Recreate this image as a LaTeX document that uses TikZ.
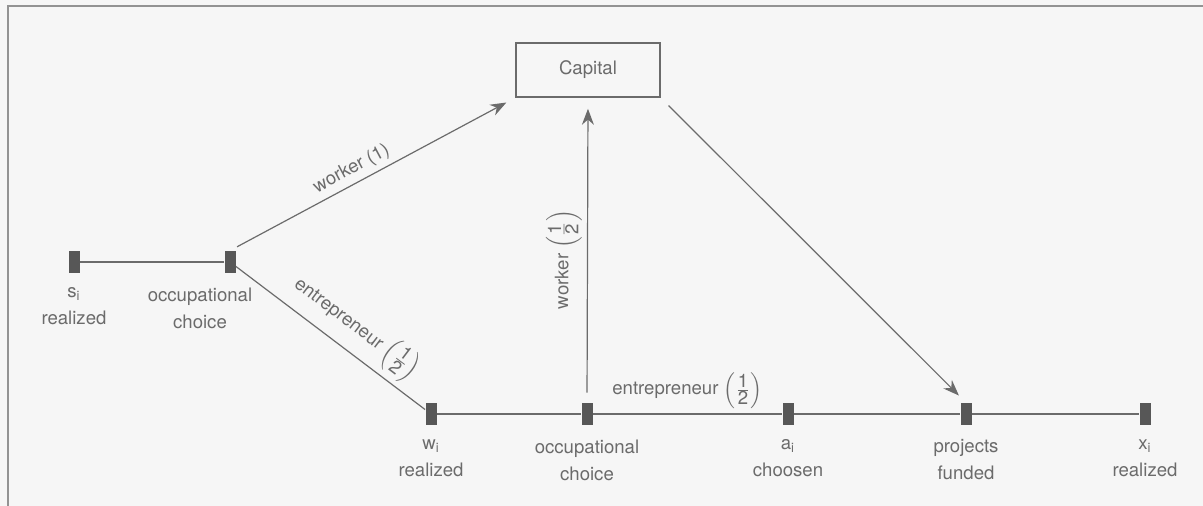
\documentclass[tikz,border=0pt]{standalone}
\usepackage{fontspec}
\setmainfont{TeX Gyre Heros}
\usetikzlibrary{positioning}
\usetikzlibrary{arrows.meta}
\definecolor{inkgray}{gray}{0.42}
\definecolor{tickgray}{gray}{0.34}
\definecolor{paper}{gray}{0.965}
\newcommand{\lblfont}{\fontsize{9.3}{11.5}\selectfont}
\newcommand{\half}{$\left(\frac{\hbox{1}}{\hbox{2}}\right)$}
\tikzstyle{tick}=[rectangle,fill=tickgray,minimum width=5.5pt,minimum height=11pt,inner sep=0pt]
\tikzstyle{event}=[align=center,text=inkgray,font=\lblfont,inner sep=0pt,execute at begin node=\strut]
\tikzstyle{timeline}=[draw,inkgray,line width=0.6pt]
\tikzstyle{flow}=[draw,inkgray,line width=0.6pt,-{Stealth[length=8pt,width=6pt]}]
\tikzstyle{weight}=[text=inkgray,font=\lblfont,inner sep=2.5pt]

\begin{document}
\begin{tikzpicture}[x=0.5pt,y=-0.5pt]
    \useasboundingbox[fill=paper] (0,0) rectangle (1203,506);
    \draw[gray!85,line width=1pt] (1210,6) -- (8,6) -- (8,506);

    \node[draw=inkgray,line width=0.8pt,minimum width=72pt,minimum height=27pt,text=inkgray,font=\lblfont] (cap) at (588,70) {Capital};

    \foreach \pos/\name in {{(74,262)/si}, {(230,262)/oc1}, {(431,414)/wi}, {(587,414)/oc2}, {(788,414)/ai}, {(966,414)/pf}, {(1145,414)/xi}}
        \node[tick] (\name) at \pos {};

    \foreach \name/\shift/\txt in {si/0/{s\textsubscript{i}\\[2pt]realized}, oc1/-15/{occupational\\[2pt]choice}, wi/0/{w\textsubscript{i}\\[2pt]realized}, oc2/0/{occupational\\[2pt]choice}, ai/0/{a\textsubscript{i}\\[2pt]choosen}, pf/0/{projects\\[2pt]funded}, xi/0/{x\textsubscript{i}\\[2pt]realized}}
        \node[event,below=7pt of \name,xshift=\shift pt] (\name-lbl) {\txt};

    \path[timeline] (si) -- (oc1);
    \path[timeline] (oc1) -- node[weight,sloped,above,pos=0.56]{entrepreneur \half} (wi);
    \path[timeline] (wi) -- (oc2) -- node[weight,above]{entrepreneur \half} (ai) -- (pf) -- (xi);

    \path[flow,shorten <=4pt,shorten >=5pt] (oc1.north) -- node[weight,sloped,above,pos=0.45]{worker (1)} (cap.south west);
    \path[flow,shorten <=5pt,shorten >=5.5pt] (oc2.north) -- node[weight,sloped,above,pos=0.47]{worker \half} (cap.south);
    \path[flow,shorten <=5.5pt,shorten >=5pt] (cap.south east) -- (pf.north);

\end{tikzpicture}
\end{document}
